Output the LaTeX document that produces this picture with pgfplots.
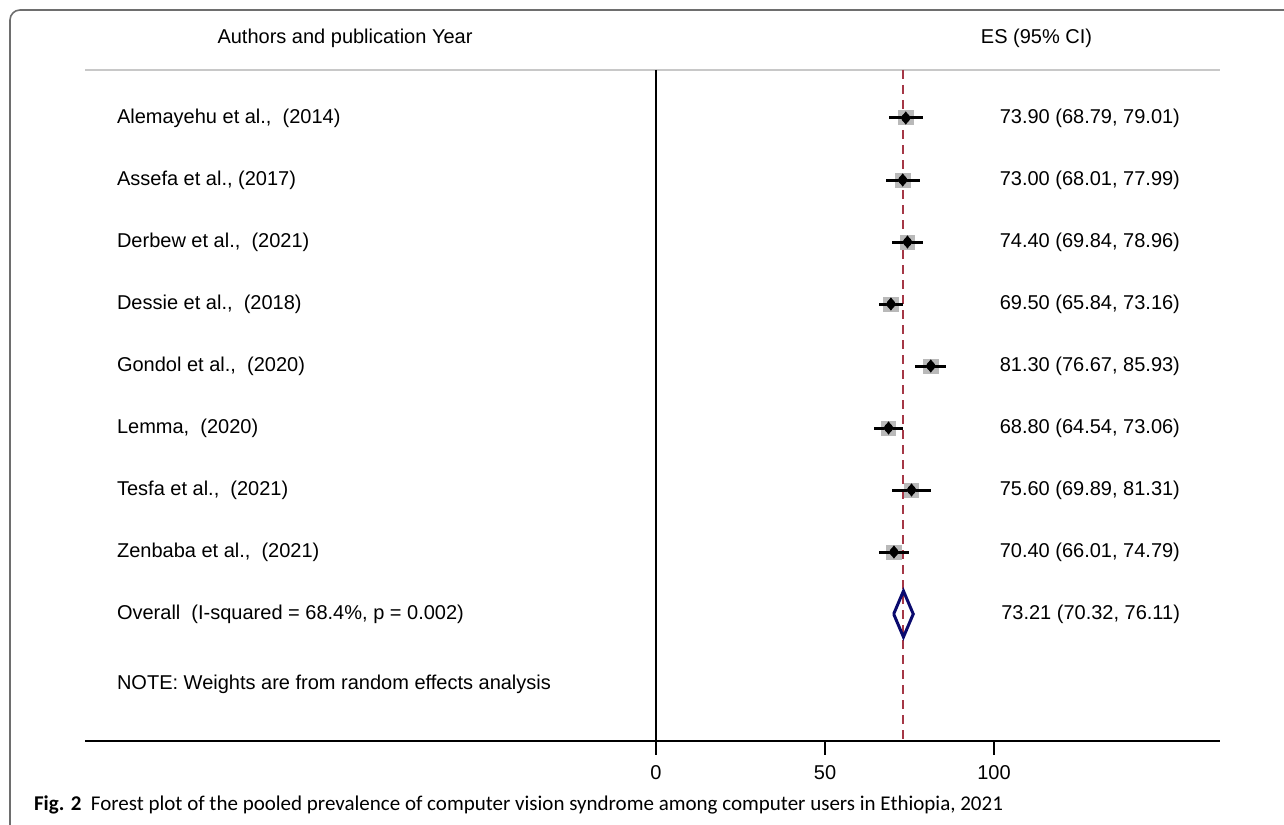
\documentclass[border=0pt]{standalone}
\usepackage{pgfplots}
\pgfplotsset{compat=1.18}
\usepackage{pgfplotstable}
\usepackage{fontspec}
\setmainfont{Liberation Sans}
\newfontfamily\capfont{Carlito}
\definecolor{refred}{RGB}{165,55,70}
\definecolor{refnavy}{RGB}{10,10,110}
\definecolor{boxgray}{RGB}{185,185,185}
\definecolor{framegray}{RGB}{110,110,110}
\definecolor{rulegray}{RGB}{200,200,200}

\pgfplotstableread{
es    lo     hi     y
73.90 68.79  79.01  118
73.00 68.01  77.99  180
74.40 69.84  78.96  242
69.50 65.84  73.16  304
81.30 76.67  85.93  366
68.80 64.54  73.06  428
75.60 69.89  81.31  490
70.40 66.01  74.79  552
}\studies

\begin{document}
\begin{tikzpicture}
\begin{axis}[
  name=ax,
  scale only axis,
  width=642pt, height=412pt,
  xmin=-194.08, xmax=185.80,
  ymin=0, ymax=824,
  y dir=reverse,
  axis lines=none,
  clip=false,
  every node/.append style={inner sep=0pt, font=\fontsize{10}{12}\selectfont},
]
% frame
\draw[framegray, line width=0.8pt, rounded corners=5pt]
  (axis cs:-191.12,840) -- (axis cs:-191.12,10) -- (axis cs:190,10);
% header
\node at (axis cs:-92.01,38) {Authors and publication Year};
\node at (axis cs:112.57,38) {ES (95\% CI)};
\draw[rulegray, line width=1pt] (axis cs:-168.93,70) -- (axis cs:166.86,70);
% zero line and x axis
\draw[black, line width=1pt] (axis cs:0,70) -- (axis cs:0,741);
\draw[black, line width=1pt] (axis cs:-168.93,741) -- (axis cs:166.86,741);
\pgfplotsinvokeforeach{0,50,100}{
  \draw[black, line width=1pt] (axis cs:#1,741) -- (axis cs:#1,755);
  \node at (axis cs:#1,773) {#1};
}
% pooled estimate line
\addplot[refred, line width=1pt, dash pattern=on 4.5pt off 3pt] coordinates {(73.21,70) (73.21,741)};
% weight boxes (drawn as thick bars of fixed width)
\addplot[boxgray, only marks, mark=none,
  error bars/.cd, x dir=both, x fixed=2.35, error mark=none,
  error bar style={line width=7.5pt, boxgray}]
  table[x=es, y=y] {\studies};
% confidence intervals
\addplot[black, only marks, mark=none,
  error bars/.cd, x dir=both, x explicit, error mark=none,
  error bar style={line width=1.5pt, black}]
  table[x=es, y=y, x error plus expr=\thisrow{hi}-\thisrow{es},
        x error minus expr=\thisrow{es}-\thisrow{lo}] {\studies};
% point estimates
\addplot[only marks, mark=diamond*, mark size=3pt, mark options={draw=black, fill=black}]
  table[x=es, y=y] {\studies};
% overall diamond
\addplot[refnavy, line width=1.5pt, line join=miter] coordinates {
  (70.32,614) (73.21,591) (76.11,614) (73.21,637) (70.32,614)};
% study labels
\node[anchor=west] at (axis cs:-161.54,118) {Alemayehu et al.,\ \ (2014)};
\node[anchor=west] at (axis cs:-161.54,180) {Assefa et al., (2017)};
\node[anchor=west] at (axis cs:-161.54,242) {Derbew et al.,\ \ (2021)};
\node[anchor=west] at (axis cs:-161.54,304) {Dessie et al.,\ \ (2018)};
\node[anchor=west] at (axis cs:-161.54,366) {Gondol et al.,\ \ (2020)};
\node[anchor=west] at (axis cs:-161.54,428) {Lemma,\ \ (2020)};
\node[anchor=west] at (axis cs:-161.54,490) {Tesfa et al.,\ \ (2021)};
\node[anchor=west] at (axis cs:-161.54,552) {Zenbaba et al.,\ \ (2021)};
\node[anchor=west] at (axis cs:-161.54,614) {Overall\ \ (I-squared = 68.4\%, p = 0.002)};
\node[anchor=west] at (axis cs:-161.54,684) {NOTE: Weights are from random effects analysis};
% ES values
\node[anchor=east] at (axis cs:157.10,118) {73.90 (68.79, 79.01)};
\node[anchor=east] at (axis cs:157.10,180) {73.00 (68.01, 77.99)};
\node[anchor=east] at (axis cs:157.10,242) {74.40 (69.84, 78.96)};
\node[anchor=east] at (axis cs:157.10,304) {69.50 (65.84, 73.16)};
\node[anchor=east] at (axis cs:157.10,366) {81.30 (76.67, 85.93)};
\node[anchor=east] at (axis cs:157.10,428) {68.80 (64.54, 73.06)};
\node[anchor=east] at (axis cs:157.10,490) {75.60 (69.89, 81.31)};
\node[anchor=east] at (axis cs:157.10,552) {70.40 (66.01, 74.79)};
\node[anchor=east] at (axis cs:157.10,614) {73.21 (70.32, 76.11)};
% caption
\node[anchor=west, font=\capfont\fontsize{10.5}{12}\selectfont] at (axis cs:-186.09,805)
  {\textbf{Fig. 2}\ \ Forest plot of the pooled prevalence of computer vision syndrome among computer users in Ethiopia, 2021};
\end{axis}
\pgfresetboundingbox
\path (ax.south west) rectangle (ax.north east);
\end{tikzpicture}
\end{document}
